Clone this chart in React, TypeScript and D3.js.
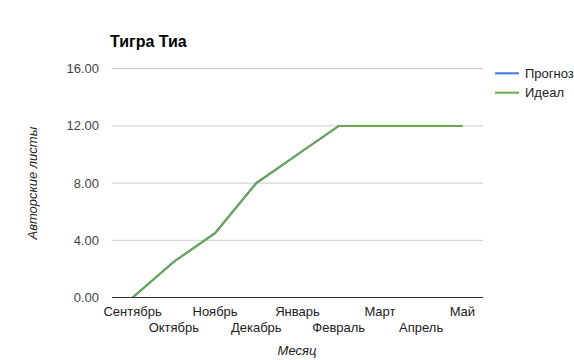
import React from "react";
import * as d3 from "d3";

const title = "Тигра Тиа";
const months = ["Сентябрь", "Октябрь", "Ноябрь", "Декабрь", "Январь", "Февраль", "Март", "Апрель", "Май"];
const forecast = [0, 2.5, 4.5, 8, 10, 12, 12, 12, 12];
const ideal = [0, 2.5, 4.5, 8, 10, 12, 12, 12, 12];
const yTicks = [0, 4, 8, 12, 16];
const seriesNames = ["Прогноз", "Идеал"];
const seriesColors = ["#3c78d8", "#6aa84f"];

const W = 574, H = 360;
const left = 112, right = 483, top = 68.7, bottom = 297.5;
const font = "Arial, 'Liberation Sans', sans-serif";

export default function App() {
  const x = d3.scaleBand<string>().domain(months).range([left, right]);
  const y = d3.scaleLinear().domain([0, 16]).range([bottom, top]);
  const cx = (m: string) => (x(m) as number) + x.bandwidth() / 2;
  const line = d3.line<number>().x((_, i) => cx(months[i])).y((d) => y(d));
  const series = [forecast, ideal];
  return (
    <svg width={W} height={H} style={{ position: "absolute", left: 0, top: 0 }} fontFamily={font}>
      <rect width={W} height={H} fill="#fff" />
      <text x={110} y={47} fontSize={16} fontWeight="bold" fill="#000">{title}</text>
      {yTicks.map((t) => (
        <g key={t}>
          {t !== 0 && <line x1={left} x2={right} y1={y(t)} y2={y(t)} stroke="#cccccc" strokeWidth={1} />}
          <text x={99} y={y(t) + 4.5} fontSize={13} textAnchor="end" fill="#444">{t.toFixed(2)}</text>
        </g>
      ))}
      {series.map((s, i) => (
        <path key={i} d={line(s) || ""} fill="none" stroke={seriesColors[i]} strokeWidth={2} />
      ))}
      <line x1={left} x2={right} y1={y(0)} y2={y(0)} stroke="#333" strokeWidth={1} />
      {months.map((m, i) => (
        <text key={m} x={cx(m)} y={i % 2 === 0 ? 316 : 332} fontSize={13} textAnchor="middle" fill="#222">{m}</text>
      ))}
      <text x={297} y={355} fontSize={13} fontStyle="italic" textAnchor="middle" fill="#222">Месяц</text>
      <text transform={`translate(37,${(top + bottom) / 2}) rotate(-90)`} fontSize={13} fontStyle="italic" textAnchor="middle" fill="#222">Авторские листы</text>
      {seriesNames.map((n, i) => (
        <g key={n}>
          <line x1={495} x2={519} y1={73.3 + i * 19.4} y2={73.3 + i * 19.4} stroke={seriesColors[i]} strokeWidth={2} />
          <text x={525} y={73.3 + i * 19.4 + 4.5} fontSize={13} fill="#222">{n}</text>
        </g>
      ))}
    </svg>
  );
}
